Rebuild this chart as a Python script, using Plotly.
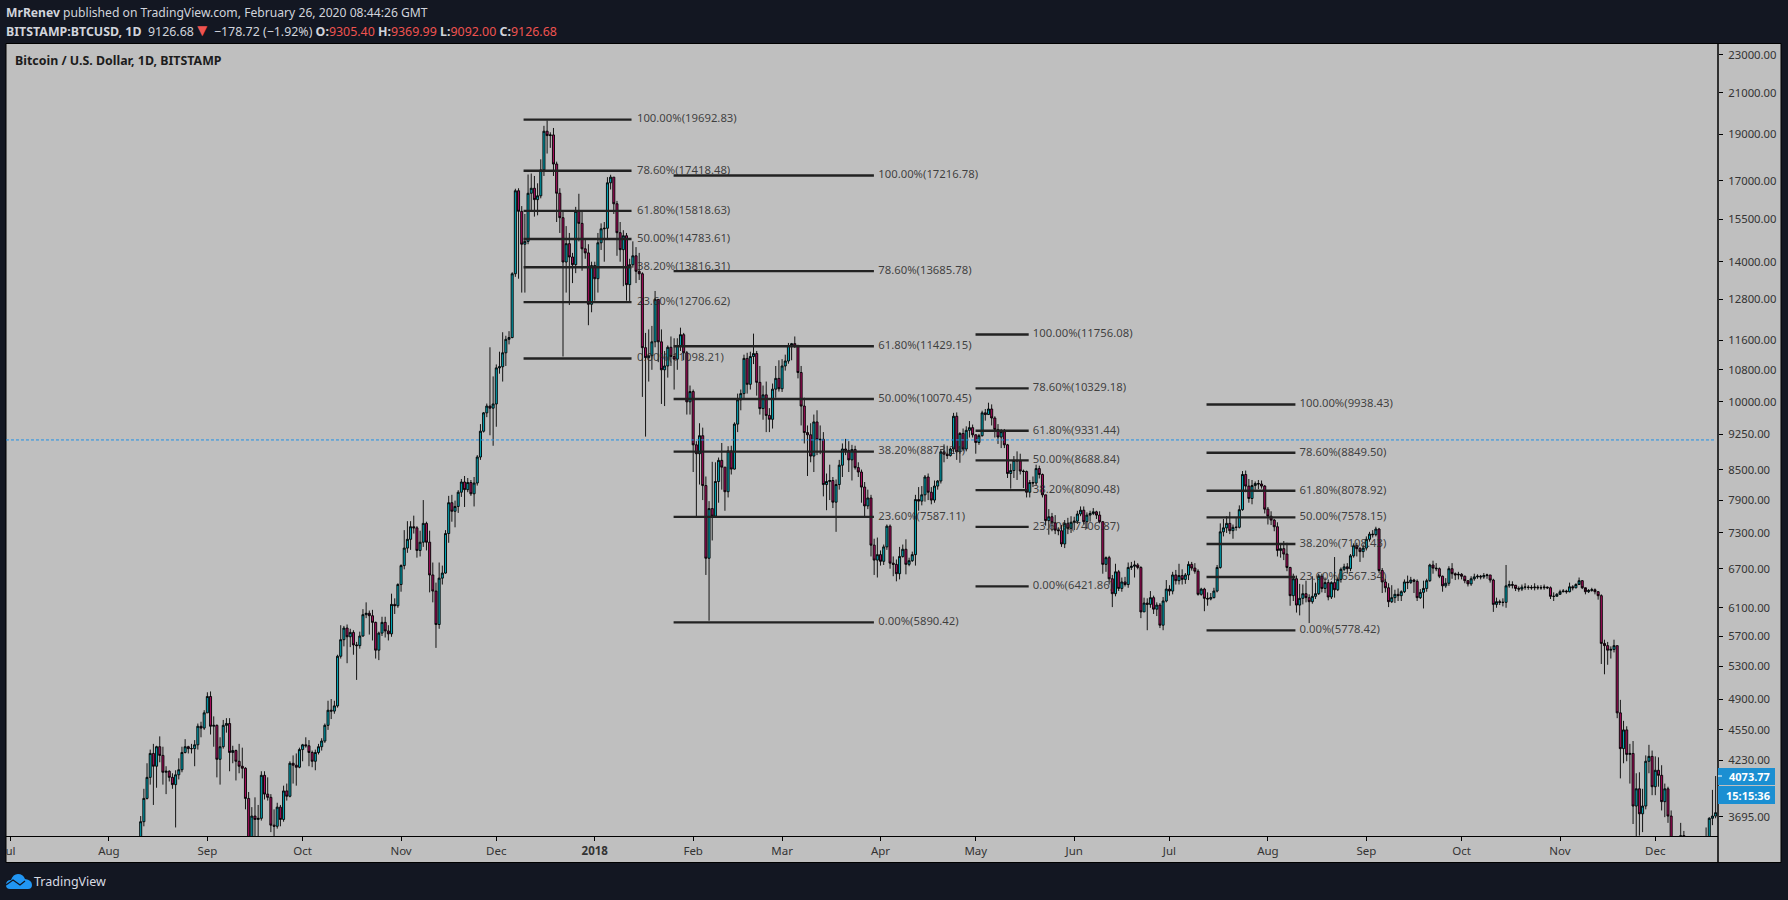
import pandas as pd
import plotly.graph_objects as go

START_DATE = "2017-08-10"

opens = [
 3340,3420,3650,3860,4060,4300,4170,4370,4280,4110,4120,4060,3990,4085,4135,4310,4370,4350,4350,4390,4590,4570,
 4740,4930,4590,4600,4240,4370,4600,4620,4310,4330,4220,4170,4150,3860,3230,3700,3670,3680,4080,3900,3870,3620,3610,3780,3670,3930,3880,4200,4180,4160,
 4340,4390,4380,4310,4220,4310,4370,4430,4600,4770,4760,4820,5430,5650,5810,5690,5750,5580,5570,5700,6000,6020,5985,5890,5510,5740,5890,5770,5730,6150,6130,
 6450,6750,7040,7190,7410,7390,7000,7140,7470,7140,6600,6350,5860,6550,6630,7290,7850,7690,7780,8050,8250,8100,8240,8020,8230,8760,9320,9740,9900,9850,
 9950,10850,10880,11250,11620,11670,13600,16600,15800,14600,14700,16500,16700,16250,16400,17450,19150,18950,18980,17700,16500,15560,13990,14620,14160,13900,15800,15350,14440,14300,12640,
 13870,13440,14650,15150,15170,16920,17150,16090,15010,14410,14900,13250,13900,14200,13680,13600,11390,11120,11170,11550,12790,11550,10800,10900,11400,11150,11080,11450,11750,11250,10000,
 10250,9020,8830,9220,8180,6870,7740,7600,8260,8690,8550,8060,8890,8510,9480,10050,10200,11100,10430,11150,11230,10480,9840,10170,9680,9590,10310,10580,
 10320,10900,11030,11450,11500,11430,10730,9900,9290,9240,8780,9530,9130,9140,8200,8260,8280,7860,8200,8590,8930,8900,8700,8920,8540,8450,8150,7790,7940,7090,6840,
 6930,6820,7060,7420,6790,6770,6620,6900,7020,6770,6830,6930,7910,7880,8000,8350,8050,7900,8170,8270,8870,8820,8790,8930,9660,8870,9270,8930,9340,9400,
 9240,9070,9220,9740,9700,9830,9620,9360,9190,9310,9020,8420,8480,8690,8680,8470,8460,8050,8240,8230,8520,8400,8000,7520,7590,7480,7350,7340,7110,7470,7380,
 7490,7510,7640,7710,7500,7620,7650,7680,7620,7500,6770,6880,6540,6310,6650,6390,6490,6450,6720,6740,6760,6720,6040,6170,6150,6250,6080,6140,5850,6200,
 6380,6350,6600,6510,6590,6530,6600,6770,6710,6660,6300,6380,6240,6230,6250,6350,6720,7320,7390,7470,7340,7400,7400,7720,8400,8170,7930,8180,8220,8210,8170,
 7730,7600,7530,7410,7000,7030,6940,6720,6280,6540,6140,6240,6310,6250,6190,6270,6310,6580,6390,6480,6260,6480,6370,6530,6690,6730,6700,6910,7080,7030,6980,
 7040,7190,7280,7270,7370,6670,6490,6400,6190,6250,6300,6280,6340,6490,6480,6520,6500,6250,6330,6390,6510,6760,6710,6700,6580,6430,6470,6700,6620,6600,
 6610,6580,6510,6460,6540,6570,6580,6570,6590,6600,6520,6150,6190,6180,6180,6430,6450,6440,6390,6380,6410,6410,6405,6400,6410,6400,6400,6410,6400,6270,6270,
 6300,6340,6350,6340,6415,6400,6450,6510,6400,6340,6360,6370,6340,6280,5600,5570,5510,5520,5570,4740,4350,4550,4290,4300,3790,3950,3720,3790,4220,4270,
 3970,4130,4080,3830,3950,3700,3410,3370,3370,3530,3430,3380,3430,3250,3190,3200,3250,3500,3680,3700,
]
highs = [
 3450,3700,3950,4200,4340,4400,4380,4480,4370,4170,4130,4100,4130,4250,4370,4450,4380,4400,4440,4620,4640,4770,
 4980,4990,4700,4610,4470,4660,4680,4680,4380,4340,4400,4360,4160,3920,3780,3870,3800,4120,4120,4060,3900,3760,3820,3800,3980,4000,4220,4280,4300,4360,
 4400,4470,4440,4330,4340,4400,4460,4620,4880,4900,4880,5450,5850,5840,5860,5800,5780,5620,5760,6080,6180,6060,6070,5900,5760,5970,5970,5850,6310,6240,6470,
 6770,7350,7510,7510,7610,7420,7340,7900,7500,7340,6800,6480,6800,6750,7350,7980,8000,7890,8090,8310,8370,8330,8290,8350,8800,9480,9760,9960,11400,10630,
 10940,11280,11820,11720,11850,13650,16680,16700,16000,15700,17260,17300,17200,16900,17900,19400,19650,19100,19300,17800,16700,15800,15250,15000,14300,15970,16480,15800,14800,14600,14000,
 14000,15000,15350,15400,17150,17250,17150,16200,15400,15100,15000,14100,14700,14500,14300,13650,11800,11900,12000,13050,12800,11900,11300,11450,11700,11650,11650,11950,11800,11300,10400,
 10300,9100,9500,9400,8360,7880,8660,8650,8750,9060,8550,8990,9000,9520,10200,10300,11200,11250,11280,11780,11300,10900,10400,10500,9850,10450,10900,11050,
 11080,11200,11520,11520,11700,11470,10900,10100,9450,9500,9700,9800,9450,9300,8420,8600,8350,8300,8700,9050,9150,9100,9020,9000,8650,8500,8250,8100,8000,7200,7220,
 7000,7100,7450,7450,6900,6850,7060,7100,7190,6880,6980,8000,8150,8170,8390,8420,8150,8280,8290,8930,9030,9000,8960,9740,9750,9300,9380,9430,9550,9470,
 9250,9260,9790,9830,9980,9940,9660,9480,9370,9370,9040,8620,8780,8880,8830,8500,8480,8290,8360,8600,8580,8420,8000,7730,7660,7620,7400,7440,7530,7570,7600,
 7590,7700,7780,7780,7670,7700,7750,7700,7690,7510,6900,6910,6600,6780,6680,6560,6570,6800,6810,6830,6790,6740,6250,6240,6350,6280,6180,6170,6260,6520,
 6440,6650,6680,6780,6690,6630,6820,6810,6790,6690,6400,6400,6330,6320,6400,6760,7470,7550,7600,7680,7450,7570,7800,8470,8480,8310,8290,8260,8290,8280,8190,
 7770,7690,7550,7490,7100,7160,7130,6730,6620,6590,6460,6450,6510,6300,6580,6480,6620,6620,6560,6530,6500,6890,6560,6720,6780,6790,6940,7120,7130,7060,7100,
 7240,7320,7350,7410,7390,6710,6540,6470,6440,6370,6390,6360,6530,6590,6570,6540,6530,6380,6510,6540,6780,6830,6790,6720,6590,6550,6740,6790,6640,6650,
 6630,6590,6500,6580,6620,6610,6600,6630,6620,6600,6540,6250,6220,6240,6760,6510,6500,6430,6420,6450,6470,6440,6440,6470,6440,6440,6450,6420,6420,6330,6320,
 6370,6380,6370,6480,6440,6470,6560,6520,6370,6380,6400,6390,6350,6300,5650,5620,5560,5650,5570,4890,4650,4590,4400,4430,4100,4110,3950,4280,4390,4330,
 4270,4260,4180,4000,3970,3750,3500,3480,3640,3570,3450,3480,3450,3280,3240,3280,3600,3690,3940,4073,
]
lows = [
 3320,3400,3610,3850,3990,3800,3960,4210,3990,3900,4020,3950,3600,4040,4110,4300,4300,4300,4170,4340,4470,4550,
 4740,4500,4370,4060,3990,4350,4520,4120,4200,4030,4100,4050,3760,3180,2980,3460,3480,3660,3850,3840,3560,3500,3590,3610,3650,3840,3870,4000,3980,4150,
 4220,4360,4170,4160,4130,4290,4330,4410,4550,4670,4730,4800,5400,5560,5340,5550,5450,5130,5530,5690,5950,5720,5640,5400,5380,5700,5680,5640,5690,6010,6100,
 6340,6690,6960,7010,7290,6880,6900,7060,7000,6330,6180,5540,5800,6450,6620,7130,7500,7400,7660,7960,7770,8050,7980,7780,8180,8700,9290,9640,9230,9000,
 9420,10700,10500,10900,11480,11650,13500,13440,13000,13000,14600,15800,15600,15650,16300,17200,18150,18400,17200,15400,15000,11150,13000,12620,13300,13620,14700,13700,14100,12020,12400,
 12750,13000,14400,14000,14800,16650,15700,14200,14000,13200,12750,12700,13800,13300,13400,10120,9200,10500,10800,11400,11000,9950,9900,10600,10900,10300,10800,11300,11050,9700,9700,
 8450,7600,8200,7900,6600,5913,7170,7580,7850,8100,7700,7950,8400,8500,9300,9800,10050,10200,10300,10950,10150,9700,9580,9300,9300,9380,10100,10250,
 10240,10780,10960,11050,11380,10580,9450,9050,8370,8650,8450,8800,8820,7970,7710,7900,7750,7320,8100,8350,8800,8450,8280,8500,8350,7850,7600,7730,6900,6600,6560,
 6750,6760,7010,6700,6580,6500,6530,6880,6610,6740,6810,6750,7700,7800,7870,7900,7820,7850,8100,8220,8650,8720,8770,8850,8700,8640,8880,8880,9180,9180,
 8830,9020,9200,9560,9690,9450,9180,9040,8950,8950,8330,8120,8330,8290,8400,8130,7950,7950,8150,8180,8320,7950,7430,7270,7330,7280,7260,7060,7040,7280,7300,
 7350,7460,7600,7450,7370,7500,7620,7550,7470,6620,6650,6450,6110,6270,6350,6340,6420,6400,6680,6560,6690,5950,6040,5780,6100,6010,5980,5810,5780,6180,
 6280,6300,6450,6450,6450,6460,6520,6670,6620,6280,6280,6050,6130,6210,6240,6330,6700,7240,7300,7280,7200,7340,7380,7700,8050,7850,7820,8100,8110,8120,7650,
 7450,7440,7330,6900,6880,6840,6660,6130,6200,6030,5990,6150,6180,5880,6160,6230,6290,6330,6320,6210,6230,6250,6350,6480,6660,6620,6660,6880,6900,6810,6880,
 7000,7150,7220,7240,6630,6320,6330,6110,6170,6170,6200,6200,6320,6380,6460,6320,6200,6230,6090,6340,6490,6620,6660,6550,6340,6400,6430,6540,6520,6530,
 6530,6470,6420,6430,6510,6540,6530,6540,6540,6480,6040,6100,6140,6120,6100,6400,6390,6350,6340,6350,6370,6370,6370,6360,6370,6370,6370,6380,6230,6200,6270,
 6320,6330,6310,6330,6360,6390,6470,6380,6300,6320,6340,6300,6220,5330,5200,5320,5400,5480,4680,4050,4200,4220,4000,3630,3480,3530,3560,3760,4100,3890,
 3890,3970,3750,3690,3640,3380,3210,3250,3360,3390,3340,3360,3220,3140,3130,3190,3240,3470,3620,3680,
]
closes = [
 3420,3650,3860,4060,4300,4170,4370,4280,4110,4120,4060,3990,4085,4135,4310,4370,4350,4350,4390,4590,4570,4740,
 4930,4590,4600,4240,4370,4600,4620,4310,4330,4220,4170,4150,3860,3230,3700,3670,3680,4080,3900,3870,3620,3610,3780,3670,3930,3880,4200,4180,4160,4340,
 4390,4380,4310,4220,4310,4370,4430,4600,4770,4760,4820,5430,5650,5810,5690,5750,5580,5570,5700,6000,6020,5985,5890,5510,5740,5890,5770,5730,6150,6130,6450,
 6750,7040,7190,7410,7390,7000,7140,7470,7140,6600,6350,5860,6550,6630,7290,7850,7690,7780,8050,8250,8100,8240,8020,8230,8760,9320,9740,9900,9850,9950,
 10850,10880,11250,11620,11670,13600,16600,15800,14600,14700,16500,16700,16250,16400,17450,19150,18950,18980,17700,16500,15560,13990,14620,14160,13900,15800,15350,14440,14300,12640,13870,
 13440,14650,15150,15170,16920,17150,16090,15010,14410,14900,13250,13900,14200,13680,13600,11390,11120,11170,11550,12790,11550,10800,10900,11400,11150,11080,11450,11750,11250,10000,10250,
 9020,8830,9220,8180,6870,7740,7600,8260,8690,8550,8060,8890,8510,9480,10050,10200,11100,10430,11150,11230,10480,9840,10170,9680,9590,10310,10580,10320,
 10900,11030,11450,11500,11430,10730,9900,9290,9240,8780,9530,9130,9140,8200,8260,8280,7860,8200,8590,8930,8900,8700,8920,8540,8450,8150,7790,7940,7090,6840,6930,
 6820,7060,7420,6790,6770,6620,6900,7020,6770,6830,6930,7910,7880,8000,8350,8050,7900,8170,8270,8870,8820,8790,8930,9660,8870,9270,8930,9340,9400,9240,
 9070,9220,9740,9700,9830,9620,9360,9190,9310,9020,8420,8480,8690,8680,8470,8460,8050,8240,8230,8520,8400,8000,7520,7590,7480,7350,7340,7110,7470,7380,7490,
 7510,7640,7710,7500,7620,7650,7680,7620,7500,6770,6880,6540,6310,6650,6390,6490,6450,6720,6740,6760,6720,6040,6170,6150,6250,6080,6140,5850,6200,6380,
 6350,6600,6510,6590,6530,6600,6770,6710,6660,6300,6380,6240,6230,6250,6350,6720,7320,7390,7470,7340,7400,7400,7720,8400,8170,7930,8180,8220,8210,8170,7730,
 7600,7530,7410,7000,7030,6940,6720,6280,6540,6140,6240,6310,6250,6190,6270,6310,6580,6390,6480,6260,6480,6370,6530,6690,6730,6700,6910,7080,7030,6980,7040,
 7190,7280,7270,7370,6670,6490,6400,6190,6250,6300,6280,6340,6490,6480,6520,6500,6250,6330,6390,6510,6760,6710,6700,6580,6430,6470,6700,6620,6600,6610,
 6580,6510,6460,6540,6570,6580,6570,6590,6600,6520,6150,6190,6180,6180,6430,6450,6440,6390,6380,6410,6410,6405,6400,6410,6400,6400,6410,6400,6270,6270,6300,
 6340,6350,6340,6415,6400,6450,6510,6400,6340,6360,6370,6340,6280,5600,5570,5510,5520,5570,4740,4350,4550,4290,4300,3790,3950,3720,3790,4220,4270,3970,
 4130,4080,3830,3950,3700,3410,3370,3370,3530,3430,3380,3430,3250,3190,3200,3250,3500,3680,3700,3730,
]

fib_pct = ["100.00%", "78.60%", "61.80%", "50.00%", "38.20%", "23.60%", "0.00%"]
fib_a = [19692.83, 17418.48, 15818.63, 14783.61, 13816.31, 12706.62, 11098.21]
fib_b = [17216.78, 13685.78, 11429.15, 10070.45, 8873.24, 7587.11, 5890.42]
fib_c = [11756.08, 10329.18, 9331.44, 8688.84, 8090.48, 7406.87, 6421.86]
fib_d = [9938.43, 8849.50, 8078.92, 7578.15, 7108.43, 6567.34, 5778.42]
fib_spans = [("2017-12-09 14:00", "2018-01-12 14:00", "2018-01-14 07:00"),
             ("2018-01-25 20:00", "2018-03-29 22:00", "2018-03-31 07:00"),
             ("2018-04-30 22:00", "2018-05-17 16:00", "2018-05-18 23:00"),
             ("2018-07-12 16:00", "2018-08-09 16:00", "2018-08-10 23:00")]
fib_sets = [fib_a, fib_b, fib_c, fib_d]
last_price = 9126.68
price_ticks = [23000, 21000, 19000, 17000, 15500, 14000, 12800, 11600, 10800, 10000, 9250, 8500,
               7900, 7300, 6700, 6100, 5700, 5300, 4900, 4550, 4230, 3695]
month_ticks = ["2017-07-01", "2017-08-01", "2017-09-01", "2017-10-01", "2017-11-01", "2017-12-01",
               "2018-01-01", "2018-02-01", "2018-03-01", "2018-04-01", "2018-05-01", "2018-06-01",
               "2018-07-01", "2018-08-01", "2018-09-01", "2018-10-01", "2018-11-01", "2018-12-01"]
month_labels = ["ul", "Aug", "Sep", "Oct", "Nov", "Dec", "<b>2018</b>", "Feb", "Mar", "Apr", "May", "Jun",
                "Jul", "Aug", "Sep", "Oct", "Nov", "Dec"]

W, H = 1788, 900
L, R, T, B = 6, 1718, 44, 836
BG = "#131722"
PANEL = "#bfbfbf"
FONT = "Noto Sans"
RED = "#ef5350"

def px(x):
    return (x - L) / (R - L)

def py(y):
    return (B - y) / (B - T)

dates = pd.date_range(START_DATE, periods=len(closes), freq="D")
assert len(opens) == len(highs) == len(lows) == len(closes) == 498, (len(opens), len(highs), len(lows), len(closes))

fig = go.Figure()
fig.add_trace(go.Candlestick(
    x=dates, open=opens, high=highs, low=lows, close=closes,
    increasing=dict(line=dict(color="#000000", width=0.9), fillcolor="#00a5b5"),
    decreasing=dict(line=dict(color="#000000", width=0.9), fillcolor="#a50d5c"),
    whiskerwidth=0, showlegend=False, hoverinfo="skip"))

for levels, (x0, x1, xt) in zip(fib_sets, fib_spans):
    for pct, v in zip(fib_pct, levels):
        fig.add_trace(go.Scatter(x=[x0, x1], y=[v, v], mode="lines",
                                 line=dict(color="#222222", width=2.4),
                                 showlegend=False, hoverinfo="skip"))
    fig.add_trace(go.Scatter(
        x=[xt] * len(levels), y=levels, mode="text",
        text=[f"{p}({v:.2f})" for p, v in zip(fib_pct, levels)],
        textposition="middle right",
        textfont=dict(family=FONT, size=11.3, color="rgba(40,40,40,0.85)"),
        showlegend=False, hoverinfo="skip"))

fig.add_trace(go.Scatter(x=["2017-06-28", "2018-12-20"], y=[last_price, last_price], mode="lines",
                         line=dict(color="#1e90e6", width=1, dash="3px,2px"),
                         showlegend=False, hoverinfo="skip"))

shapes = [
    dict(type="rect", xref="paper", yref="paper", x0=px(6), x1=px(1781), y0=py(862.5), y1=py(43.5),
         fillcolor=PANEL, line=dict(color="#000000", width=1), layer="below"),
    dict(type="line", xref="paper", yref="paper", x0=px(1718), x1=px(1718), y0=py(862.5), y1=py(43.5),
         line=dict(color="#000000", width=1.5)),
    dict(type="rect", xref="paper", yref="paper", x0=px(1718), x1=px(1775), y0=py(785), y1=py(768),
         fillcolor="#1b8fd2", line=dict(width=0)),
    dict(type="rect", xref="paper", yref="paper", x0=px(1718), x1=px(1775), y0=py(804), y1=py(786),
         fillcolor="#1b8fd2", line=dict(width=0)),
    dict(type="line", xref="paper", yref="paper", x0=px(1718), x1=px(1722), y0=py(776), y1=py(776),
         line=dict(color="#ffffff", width=1)),
]

def pts(path):
    out = []
    for tok in path.split():
        if "," in tok:
            cmd = ""
            if tok[0].isalpha():
                cmd, tok = tok[0], tok[1:]
            a, b = tok.split(",")
            out.append(f"{cmd}{px(float(a)):.6f},{py(float(b)):.6f}")
        else:
            out.append(tok)
    return " ".join(out)

shapes.append(dict(type="path", xref="paper", yref="paper",
    path=pts("M10,889 Q6,889 6,885 Q6,880 11,880 Q13,874 18,874 Q23,874 25,879 Q32,880 32,885 Q32,889 28,889 Z"),
    fillcolor="#2196f3", line=dict(width=0)))
shapes.append(dict(type="path", xref="paper", yref="paper",
    path=pts("M6,885 L13,880 L20,885 L25,881"),
    line=dict(color="#131722", width=1.3)))

def ann(x, y, text, size, color, anchor="left", family=FONT):
    return dict(x=px(x), y=py(y), xref="paper", yref="paper", text=text, showarrow=False,
                xanchor=anchor, yanchor="middle", borderpad=0,
                font=dict(family=family, size=size, color=color))

C1 = "#d1d4dc"
TRI = f'<span style="color:{RED};font-size:17px">▼</span>'
annotations = [
    ann(5, 12.5, '<b>MrRenev</b> published on TradingView.com, February 26, 2020 08:44:26 GMT', 12.15, C1),
    ann(5, 29.5, f'<b>BITSTAMP:BTCUSD, 1D</b>  9126.68{TRI} −178.72 (−1.92%) '
                 f'<b>O:</b><span style="color:{RED}">9305.40</span> <b>H:</b><span style="color:{RED}">9369.99</span> '
                 f'<b>L:</b><span style="color:{RED}">9092.00</span> <b>C:</b><span style="color:{RED}">9126.68</span>', 12.4, C1),
    ann(14, 60.5, '<b>Bitcoin / U.S. Dollar, 1D, BITSTAMP</b>', 12.4, "#1c1c1c"),
    ann(1771, 776.5, '<b>4073.77</b>', 11, "#ffffff", "right"),
    ann(1771, 795, '<b>15:15:36</b>', 11, "#ffffff", "right"),
    ann(33, 881.5, 'TradingView', 12.5, "#d8dbe2"),
]

fig.update_layout(
    width=W, height=H, autosize=False, boxgap=0.08,
    margin=dict(l=L, r=W - R, t=T, b=H - B, pad=0),
    paper_bgcolor=BG, plot_bgcolor="rgba(0,0,0,0)",
    shapes=shapes, annotations=annotations, showlegend=False,
    xaxis=dict(type="date", range=["2017-06-29 14:00", "2018-12-20 18:00"],
               rangeslider=dict(visible=False), showgrid=False, zeroline=False,
               tickmode="array", tickvals=month_ticks, ticktext=month_labels,
               ticks="outside", ticklen=4, tickcolor="#000000", tickwidth=1,
               showline=True, linecolor="#000000", linewidth=1,
               tickfont=dict(family=FONT, size=11.5, color="#333333")),
    yaxis=dict(type="log", side="right", range=[3.5474, 4.3731], showgrid=False, zeroline=False,
               tickmode="array", tickvals=price_ticks, ticktext=[f"{v:.2f}" for v in price_ticks],
               ticks="outside", ticklen=4, tickcolor="#000000", tickwidth=1,
               showline=False, ticklabelstandoff=3,
               tickfont=dict(family=FONT, size=11.3, color="#333333")),
)

fig.write_html("out.html", config=dict(displayModeBar=False),
               post_script="document.body.style.margin='0';document.body.style.background='#131722';")
